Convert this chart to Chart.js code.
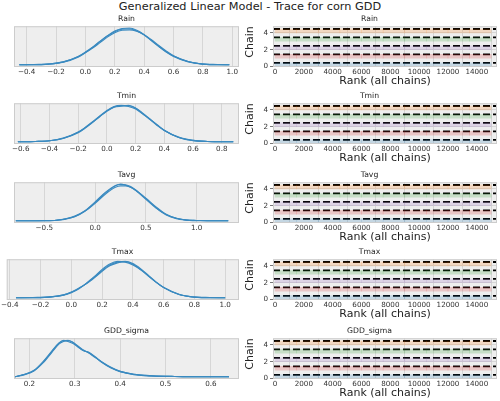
<!DOCTYPE html>
<html>
<head>
<meta charset="utf-8">
<script src="https://cdn.jsdelivr.net/npm/chart.js@4.4.1/dist/chart.umd.min.js"></script>
<style>
  body { margin: 0; background: #fff; }
  #wrap { position: relative; width: 500px; height: 401px; overflow: hidden; font-family: 'DejaVu Sans', sans-serif; }
  #wrap canvas { position: absolute; }
  #title { position: absolute; left: 0; top: 0; width: 500px; text-align: center; font-size: 11.3px; line-height: 14px; color: #222; }
</style>
</head>
<body>
<div id="wrap"><div id="title">Generalized Linear Model - Trace for corn GDD</div></div>
<script>
// ---- data ----
const params = ['Rain', 'Tmin', 'Tavg', 'Tmax', 'GDD_sigma'];

// posterior densities (3 chains drawn per parameter, peak ~1)
const rainGrid = [-0.45, -0.35, -0.25, -0.15, -0.05, 0.0, 0.05, 0.1, 0.15, 0.2, 0.25, 0.3, 0.35, 0.4, 0.45, 0.5, 0.55, 0.6, 0.7, 0.8, 0.9, 0.98];
const rainKde = [
  [0.00, 0.00, 0.02, 0.08, 0.22, 0.34, 0.48, 0.64, 0.79, 0.91, 0.98, 0.99, 0.93, 0.82, 0.67, 0.51, 0.36, 0.24, 0.09, 0.02, 0.00, 0.00],
  [0.00, 0.01, 0.02, 0.07, 0.21, 0.33, 0.46, 0.61, 0.76, 0.88, 0.95, 0.96, 0.92, 0.83, 0.69, 0.53, 0.38, 0.25, 0.09, 0.02, 0.00, 0.00],
  [0.00, 0.00, 0.02, 0.08, 0.23, 0.35, 0.49, 0.65, 0.80, 0.93, 1.00, 1.01, 0.95, 0.83, 0.66, 0.50, 0.35, 0.23, 0.08, 0.02, 0.01, 0.00]
];
const tminGrid = [-0.62, -0.5, -0.4, -0.3, -0.2, -0.15, -0.1, -0.05, 0.0, 0.05, 0.1, 0.15, 0.2, 0.25, 0.3, 0.35, 0.4, 0.5, 0.6, 0.7, 0.8, 0.88];
const tminKde = [
  [0.00, 0.01, 0.03, 0.10, 0.26, 0.39, 0.54, 0.70, 0.85, 0.96, 0.99, 0.99, 0.92, 0.77, 0.61, 0.45, 0.31, 0.12, 0.04, 0.01, 0.00, 0.00],
  [0.00, 0.01, 0.03, 0.11, 0.27, 0.40, 0.55, 0.71, 0.86, 0.97, 1.00, 0.97, 0.90, 0.76, 0.62, 0.47, 0.32, 0.13, 0.04, 0.01, 0.00, 0.00],
  [0.00, 0.01, 0.03, 0.10, 0.25, 0.38, 0.53, 0.69, 0.84, 0.95, 0.98, 1.00, 0.93, 0.79, 0.63, 0.46, 0.31, 0.12, 0.03, 0.01, 0.00, 0.00]
];
const tavgGrid = [-0.78, -0.6, -0.5, -0.4, -0.3, -0.2, -0.1, 0.0, 0.1, 0.2, 0.25, 0.3, 0.35, 0.4, 0.5, 0.6, 0.7, 0.8, 0.9, 1.0, 1.15, 1.31];
const tavgKde = [
  [0.00, 0.00, 0.00, 0.01, 0.05, 0.12, 0.27, 0.50, 0.76, 0.96, 1.00, 0.99, 0.94, 0.85, 0.61, 0.36, 0.17, 0.07, 0.02, 0.01, 0.00, 0.00],
  [0.00, 0.00, 0.00, 0.01, 0.04, 0.11, 0.26, 0.48, 0.73, 0.92, 0.96, 0.96, 0.92, 0.84, 0.62, 0.38, 0.18, 0.07, 0.02, 0.01, 0.00, 0.00],
  [0.00, 0.00, 0.01, 0.01, 0.05, 0.13, 0.28, 0.52, 0.78, 0.97, 1.01, 0.98, 0.92, 0.83, 0.59, 0.35, 0.16, 0.06, 0.02, 0.00, 0.00, 0.00]
];
const tmaxGrid = [-0.36, -0.25, -0.15, -0.05, 0.0, 0.05, 0.1, 0.15, 0.2, 0.25, 0.3, 0.35, 0.4, 0.45, 0.5, 0.55, 0.6, 0.7, 0.8, 0.9, 1.0];
const tmaxKde = [
  [0.00, 0.00, 0.02, 0.08, 0.15, 0.26, 0.40, 0.57, 0.75, 0.90, 0.98, 0.99, 0.92, 0.78, 0.61, 0.43, 0.28, 0.09, 0.02, 0.00, 0.00],
  [0.00, 0.00, 0.02, 0.07, 0.14, 0.25, 0.41, 0.59, 0.78, 0.93, 1.00, 0.98, 0.90, 0.77, 0.60, 0.43, 0.29, 0.10, 0.02, 0.01, 0.00],
  [0.00, 0.01, 0.02, 0.08, 0.16, 0.27, 0.39, 0.55, 0.73, 0.88, 0.96, 1.00, 0.94, 0.80, 0.62, 0.44, 0.28, 0.09, 0.02, 0.00, 0.00]
];
const sigmaGrid = [0.168, 0.19, 0.21, 0.23, 0.25, 0.265, 0.275, 0.285, 0.295, 0.31, 0.32, 0.33, 0.345, 0.36, 0.38, 0.40, 0.43, 0.47, 0.52, 0.58, 0.64];
const sigmaKde = [
  [0.00, 0.07, 0.17, 0.40, 0.70, 0.92, 0.99, 0.99, 0.95, 0.80, 0.72, 0.67, 0.54, 0.40, 0.25, 0.15, 0.07, 0.03, 0.01, 0.00, 0.00],
  [0.00, 0.06, 0.16, 0.38, 0.68, 0.90, 0.97, 1.00, 0.96, 0.82, 0.73, 0.66, 0.53, 0.41, 0.26, 0.15, 0.07, 0.03, 0.01, 0.00, 0.00],
  [0.00, 0.07, 0.18, 0.42, 0.72, 0.93, 1.00, 0.97, 0.92, 0.79, 0.71, 0.68, 0.55, 0.39, 0.24, 0.14, 0.06, 0.02, 0.01, 0.00, 0.00]
];

// x tick labels of the density panels
const rainTicks = [-0.4, -0.2, 0.0, 0.2, 0.4, 0.6, 0.8, 1.0];
const tminTicks = [-0.6, -0.4, -0.2, 0.0, 0.2, 0.4, 0.6, 0.8];
const tavgTicks = [-0.5, 0.0, 0.5, 1.0];
const tmaxTicks = [-0.4, -0.2, 0.0, 0.2, 0.4, 0.6, 0.8, 1.0];
const sigmaTicks = [0.2, 0.3, 0.4, 0.5, 0.6];
const kdeLimits = [[-0.486, 1.046], [-0.647, 0.92], [-0.798, 1.416], [-0.42, 1.09], [0.166, 0.662]];

// rank plots: 5 chains, histogram of ranks (10 bins), bar heights above chain baseline
const chainTicks = [0, 1, 2, 3, 4];
const rankTicks = [0, 2000, 4000, 6000, 8000, 10000, 12000, 14000];
const rankBins = [750, 2250, 3750, 5250, 6750, 8250, 9750, 11250, 12750, 14250];
const rankLimits = [-140, 15400];
const rankRef = [0.45, 0.45, 0.45, 0.45, 0.45];
const rainRanks = [
  [0.45, 0.44, 0.46, 0.45, 0.43, 0.45, 0.46, 0.44, 0.45, 0.44],
  [0.44, 0.46, 0.45, 0.44, 0.46, 0.45, 0.43, 0.45, 0.46, 0.45],
  [0.46, 0.45, 0.44, 0.45, 0.45, 0.44, 0.46, 0.45, 0.44, 0.46],
  [0.45, 0.45, 0.46, 0.44, 0.45, 0.46, 0.45, 0.44, 0.45, 0.45],
  [0.44, 0.45, 0.45, 0.46, 0.44, 0.45, 0.45, 0.46, 0.44, 0.45]
];
const tminRanks = [
  [0.44, 0.45, 0.45, 0.46, 0.45, 0.44, 0.45, 0.46, 0.45, 0.44],
  [0.46, 0.44, 0.45, 0.45, 0.44, 0.46, 0.45, 0.44, 0.46, 0.45],
  [0.45, 0.46, 0.44, 0.45, 0.46, 0.45, 0.44, 0.45, 0.45, 0.46],
  [0.45, 0.44, 0.46, 0.45, 0.45, 0.44, 0.46, 0.45, 0.44, 0.45],
  [0.44, 0.45, 0.45, 0.44, 0.46, 0.45, 0.45, 0.46, 0.45, 0.44]
];
const tavgRanks = [
  [0.45, 0.46, 0.44, 0.45, 0.45, 0.46, 0.44, 0.45, 0.46, 0.45],
  [0.44, 0.45, 0.46, 0.45, 0.44, 0.45, 0.46, 0.44, 0.45, 0.46],
  [0.46, 0.44, 0.45, 0.46, 0.45, 0.44, 0.45, 0.46, 0.44, 0.45],
  [0.45, 0.45, 0.44, 0.46, 0.45, 0.45, 0.44, 0.45, 0.46, 0.44],
  [0.44, 0.46, 0.45, 0.44, 0.46, 0.45, 0.45, 0.44, 0.45, 0.46]
];
const tmaxRanks = [
  [0.46, 0.45, 0.45, 0.44, 0.45, 0.46, 0.45, 0.44, 0.45, 0.45],
  [0.45, 0.44, 0.46, 0.45, 0.46, 0.44, 0.45, 0.45, 0.44, 0.46],
  [0.44, 0.45, 0.45, 0.46, 0.44, 0.45, 0.46, 0.45, 0.45, 0.44],
  [0.45, 0.46, 0.44, 0.45, 0.45, 0.44, 0.45, 0.46, 0.45, 0.45],
  [0.45, 0.44, 0.45, 0.45, 0.46, 0.45, 0.44, 0.45, 0.46, 0.44]
];
const sigmaRanks = [
  [0.44, 0.45, 0.46, 0.45, 0.44, 0.45, 0.45, 0.46, 0.44, 0.45],
  [0.45, 0.46, 0.44, 0.45, 0.45, 0.44, 0.46, 0.45, 0.45, 0.44],
  [0.46, 0.44, 0.45, 0.45, 0.46, 0.45, 0.44, 0.45, 0.44, 0.46],
  [0.45, 0.45, 0.45, 0.44, 0.45, 0.46, 0.45, 0.44, 0.46, 0.45],
  [0.44, 0.46, 0.45, 0.46, 0.44, 0.45, 0.45, 0.45, 0.45, 0.44]
];

const grids = [rainGrid, tminGrid, tavgGrid, tmaxGrid, sigmaGrid];
const kdes = [rainKde, tminKde, tavgKde, tmaxKde, sigmaKde];
const kdeTicks = [rainTicks, tminTicks, tavgTicks, tmaxTicks, sigmaTicks];
const ranks = [rainRanks, tminRanks, tavgRanks, tmaxRanks, sigmaRanks];

// ---- layout / style ----
const rowTops = [26, 103, 182, 259, 338];
const boxH = 41;
const leftBoxL = [14, 14, 14, 6, 14];
const leftBoxR = 239;
const rightBoxL = 273, rightBoxR = 497;
const kdeColor = '#3a8ac0';
const chainFills = ['rgba(31,119,180,0.2)', 'rgba(214,39,40,0.2)', 'rgba(148,103,189,0.2)', 'rgba(44,160,44,0.2)', 'rgba(255,127,14,0.2)'];
const gridColor = '#d6d6d6';
const tickFont = { size: 7.2 };

Chart.defaults.font.family = "'DejaVu Sans', sans-serif";
Chart.defaults.color = '#333';

const fmtMinus = (v) => v.toFixed(1).replace('-', '\u2212');

const panelFrame = {
  id: 'panelFrame',
  beforeDraw(chart) {
    const { ctx, chartArea: a } = chart;
    ctx.save();
    ctx.fillStyle = '#eeeeee';
    ctx.fillRect(a.left, a.top, a.right - a.left, a.bottom - a.top);
    ctx.restore();
  },
  afterDraw(chart) {
    const { ctx, chartArea: a } = chart;
    ctx.save();
    ctx.strokeStyle = '#cccccc';
    ctx.lineWidth = 1;
    ctx.strokeRect(a.left + 0.5, a.top + 0.5, a.right - a.left - 1, a.bottom - a.top - 1);
    ctx.restore();
  }
};

function addCanvas(left, top, w, h) {
  const cv = document.createElement('canvas');
  cv.width = w; cv.height = h;
  cv.style.left = left + 'px'; cv.style.top = top + 'px';
  cv.style.width = w + 'px'; cv.style.height = h + 'px';
  document.getElementById('wrap').appendChild(cv);
  return cv;
}

function panelTitle(text) {
  return { display: true, text, color: '#222', font: { size: 7.7, weight: 'normal' }, padding: { top: 4.5, bottom: 2.5 } };
}

function kdePanel(k) {
  const w = 245, h = 16 + boxH + 12;
  const cv = addCanvas(0, rowTops[k] - 16, w, h);
  const datasets = kdes[k].map((ys) => ({
    data: grids[k].map((x, j) => ({ x, y: ys[j] })),
    borderColor: kdeColor,
    borderWidth: 1.1,
    pointRadius: 0,
    cubicInterpolationMode: 'monotone',
    fill: false
  }));
  new Chart(cv, {
    type: 'line',
    data: { datasets },
    options: {
      responsive: false, animation: false, devicePixelRatio: 1,
      layout: { padding: { left: leftBoxL[k], right: w - leftBoxR, top: 0, bottom: 0 } },
      plugins: { legend: { display: false }, tooltip: { enabled: false }, title: panelTitle(params[k]) },
      scales: {
        x: {
          type: 'linear', min: kdeLimits[k][0], max: kdeLimits[k][1],
          afterBuildTicks: (s) => { s.ticks = kdeTicks[k].map((v) => ({ value: v })); },
          afterFit: (s) => { s.height = 12; },
          grid: { color: gridColor, lineWidth: 1, drawTicks: false },
          border: { display: false },
          ticks: { font: tickFont, padding: 1, maxRotation: 0, minRotation: 0, autoSkip: false, callback: (v) => fmtMinus(v) }
        },
        y: { display: false, min: -0.06, max: 1.06 }
      }
    },
    plugins: [panelFrame]
  });
}

function rankPanel(k) {
  // canvas runs past the page edge so the panel title centres where the reference has it
  const left = 242, w = 270, h = 16 + boxH + 21;
  const cv = addCanvas(left, rowTops[k] - 16, w, h);
  const datasets = [];
  chainTicks.forEach((c, i) => {
    datasets.push({
      type: 'bar',
      data: rankBins.map((b, j) => ({ x: b, y: [c, c + ranks[k][i][j]] })),
      backgroundColor: chainFills[i],
      borderWidth: 0,
      grouped: false,
      categoryPercentage: 1,
      barPercentage: 1
    });
  });
  chainTicks.forEach((c) => {
    datasets.push({
      type: 'line',
      data: [{ x: rankLimits[0], y: c + rankRef[k] }, { x: rankLimits[1], y: c + rankRef[k] }],
      borderColor: '#000',
      borderWidth: 1.8,
      borderDash: [7, 3],
      pointRadius: 0
    });
  });
  new Chart(cv, {
    type: 'bar',
    data: { datasets },
    options: {
      responsive: false, animation: false, devicePixelRatio: 1,
      layout: { padding: { left: 0, right: left + w - rightBoxR, top: 0, bottom: 0 } },
      plugins: { legend: { display: false }, tooltip: { enabled: false }, title: panelTitle(params[k]) },
      scales: {
        x: {
          type: 'linear', offset: false, min: rankLimits[0], max: rankLimits[1],
          afterBuildTicks: (s) => { s.ticks = rankTicks.map((v) => ({ value: v })); },
          afterFit: (s) => { s.height = 21; },
          grid: { color: gridColor, lineWidth: 1, drawTicks: false },
          border: { display: false },
          ticks: { font: tickFont, padding: 1, maxRotation: 0, minRotation: 0, autoSkip: false, callback: (v) => String(v) },
          title: { display: true, text: 'Rank (all chains)', color: '#222', font: { size: 11, lineHeight: 1.2 }, padding: { top: 0, bottom: 0 } }
        },
        y: {
          type: 'linear', min: -0.05, max: 4.78,
          afterBuildTicks: (s) => { s.ticks = chainTicks.map((v) => ({ value: v })); },
          afterFit: (s) => { s.width = rightBoxL - left; },
          grid: { color: gridColor, lineWidth: 1, drawOnChartArea: true, drawTicks: true, tickLength: 3, tickColor: '#777' },
          border: { display: false },
          ticks: { font: tickFont, padding: 2, callback: (v) => String(v) },
          title: { display: true, text: 'Chain', align: 'end', color: '#222', font: { size: 11, lineHeight: 1 }, padding: { top: 3, bottom: 0 } }
        }
      }
    },
    plugins: [panelFrame]
  });
}

params.forEach((p, k) => { kdePanel(k); rankPanel(k); });
</script>
</body>
</html>
